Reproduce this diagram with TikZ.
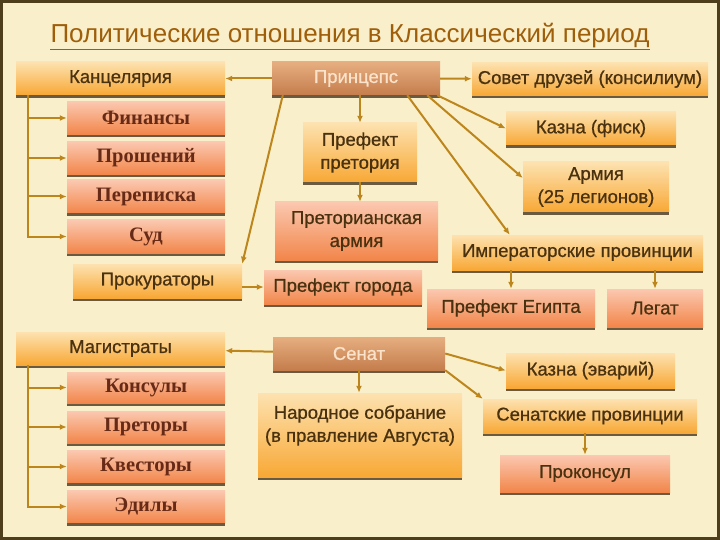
\documentclass[tikz,border=0pt]{standalone}
\usepackage{fontspec}
\setmainfont{Liberation Sans}
\newfontfamily\oldserif{Liberation Serif}
\newfontfamily\boxsans[FakeBold=0.8]{Liberation Sans}
\usetikzlibrary{arrows.meta,shadows}
\definecolor{cream}{HTML}{FAEFCB}
\definecolor{framecol}{HTML}{4E3E1C}
\definecolor{titlecol}{HTML}{9E5E0A}
\definecolor{otop}{HTML}{FDE2B0}
\definecolor{obot}{HTML}{F8A835}
\definecolor{saltop}{HTML}{FBC8B0}
\definecolor{salbot}{HTML}{F2864A}
\definecolor{btop}{HTML}{E6AE80}
\definecolor{bbot}{HTML}{C57D4C}
\definecolor{btext}{HTML}{FBE3CB}
\definecolor{boxtext}{HTML}{4A3210}
\definecolor{romtext}{HTML}{662A16}
\definecolor{shadowcol}{HTML}{6A5A40}
\definecolor{arrcol}{HTML}{BC861C}
\tikzset{
  box/.style={align=center, text=boxtext, inner sep=2pt,
    font=\boxsans\fontsize{18.5}{23}\selectfont,
    drop shadow={shadow xshift=0pt, shadow yshift=-3pt, fill=shadowcol, opacity=1}},
  obox/.style={box, top color=otop, bottom color=obot},
  sbox/.style={box, top color=saltop, bottom color=salbot},
  bbox/.style={box, top color=btop, bottom color=bbot, text=btext},
  rom/.style={font=\oldserif\bfseries\fontsize{20.5}{22}\selectfont, text=romtext},
  arr/.style={draw=arrcol, line width=2pt, -{Latex[length=7pt,width=6pt]}},
}
\begin{document}
\begin{tikzpicture}[x=1pt,y=-1pt]
\useasboundingbox (0,0) rectangle (720,540);
\fill[cream] (0,0) rectangle (720,540);
\draw[framecol, line width=3pt] (1.5,1.5) rectangle (718.5,538.5);
\node[inner sep=0pt, text=titlecol, font=\fontsize{26}{30}\selectfont] (title) at (350,36) {Политические отношения в Классический период};
\draw[titlecol, line width=1.6pt] ([yshift=-1pt]title.south west) -- ([yshift=-1pt]title.south east);

\node[obox, minimum width=209pt, minimum height=33pt] (kanc) at (120.5,78.5) {Канцелярия};
\node[sbox, rom, minimum width=158pt, minimum height=33pt] (fin) at (146,118) {Финансы};
\node[sbox, rom, minimum width=158pt, minimum height=33pt] (pros) at (146,158) {Прошений};
\node[sbox, rom, minimum width=158pt, minimum height=33pt] (perep) at (146,196.5) {Переписка};
\node[sbox, rom, minimum width=158pt, minimum height=33pt] (sud) at (146,236.5) {Суд};
\node[obox, minimum width=169pt, minimum height=34pt] (prok) at (157.5,281) {Прокураторы};

\node[bbox, minimum width=168pt, minimum height=33pt] (princ) at (356,78.5) {Принцепс};
\node[obox, minimum width=114pt, minimum height=59pt] (pref) at (360,152.5) {Префект\\претория};
\node[sbox, minimum width=163pt, minimum height=58pt] (pretarm) at (356.5,231) {Преторианская\\армия};
\node[sbox, minimum width=158pt, minimum height=34pt] (prgor) at (343,287) {Префект города};

\node[obox, minimum width=236pt, minimum height=33pt] (sovet) at (590,79) {Совет друзей (консилиум)};
\node[obox, minimum width=170pt, minimum height=33pt] (fisk) at (591,128.5) {Казна (фиск)};
\node[obox, minimum width=146pt, minimum height=50pt] (army) at (596,187) {Армия\\(25 легионов)};
\node[obox, minimum width=251pt, minimum height=35pt] (impprov) at (577.5,252.5) {Императорские провинции};
\node[sbox, minimum width=168pt, minimum height=38pt] (egypt) at (511,308) {Префект Египта};
\node[sbox, minimum width=96pt, minimum height=38pt] (legat) at (655,308) {Легат};

\node[obox, minimum width=209pt, minimum height=33pt] (mag) at (120.5,348.5) {Магистраты};
\node[sbox, rom, minimum width=158pt, minimum height=31pt] (kons) at (146,387.5) {Консулы};
\node[sbox, rom, minimum width=158pt, minimum height=32pt] (pret) at (146,427) {Преторы};
\node[sbox, rom, minimum width=158pt, minimum height=32pt] (kvest) at (146,466.5) {Квесторы};
\node[sbox, rom, minimum width=158pt, minimum height=32pt] (edil) at (146,506.5) {Эдилы};

\node[bbox, minimum width=172pt, minimum height=33pt] (senat) at (359,353.5) {Сенат};
\node[obox, minimum width=204pt, minimum height=84pt] (narod) at (360,435) {Народное собрание\\(в правление Августа)\\[0pt]\mbox{}};
\node[obox, minimum width=169pt, minimum height=35pt] (erar) at (590.5,370.5) {Казна (эварий)};
\node[obox, minimum width=214pt, minimum height=34pt] (senprov) at (590,416) {Сенатские провинции};
\node[sbox, minimum width=170pt, minimum height=37pt] (prokons) at (585,473.5) {Проконсул};

\foreach \n in {fin,pros,perep,sud} {\draw[arr] ([xshift=12pt]kanc.south west) |- (\n.west);}
\foreach \n in {kons,pret,kvest,edil} {\draw[arr] ([xshift=12pt]mag.south west) |- (\n.west);}
\draw[arr] (princ) -- (kanc);
\draw[arr] (princ) -- (sovet);
\draw[arr] (pref.north |- princ.south) -- (pref.north);
\draw[arr] (pref.south) -- (pref.south |- pretarm.north);
\draw[arr] ([xshift=11pt]princ.south west) -- (prok.north east);
\draw[arr] (prok.east |- prgor.west) -- (prgor.west);
\draw[arr] ([xshift=-3pt]princ.south east) -- (fisk.west);
\draw[arr] ([xshift=-13pt]princ.south east) -- ([yshift=9pt]army.west);
\draw[arr] ([xshift=-33pt]princ.south east) -- ([xshift=58pt]impprov.north west);
\draw[arr] (egypt.north |- impprov.south) -- (egypt.north);
\draw[arr] (legat.north |- impprov.south) -- (legat.north);
\draw[arr] (senat) -- (mag);
\draw[arr] (senat.south) -- (senat.south |- narod.north);
\draw[arr] (senat.east) -- (erar.west);
\draw[arr] (senat.south east) -- (senprov.north west);
\draw[arr] (prokons.north |- senprov.south) -- (prokons.north);
\end{tikzpicture}
\end{document}
